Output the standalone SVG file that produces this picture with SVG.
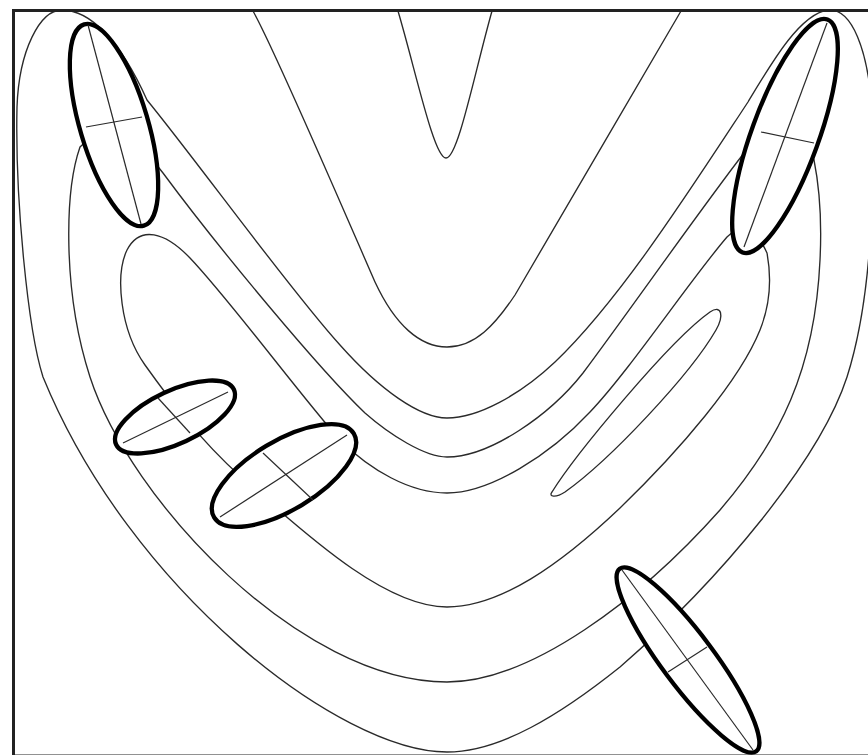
<svg xmlns="http://www.w3.org/2000/svg" width="868" height="755" viewBox="0 0 868 755">
<style>
.c{fill:none;stroke:#2a2a2a;stroke-width:1.35}
.e{fill:#fff;stroke:#000;stroke-width:4.3}
.ax{fill:none;stroke:#2a2a2a;stroke-width:1.2}
.fr{fill:none;stroke:#222;stroke-width:3}
</style>
<rect width="868" height="755" fill="#fff"/>
<g id="contours">
<path class="c" d="M398,11 C416,72 434,158 446,158 C458,158 474,75 492,11"/>
<path class="c" d="M253,11 C275,50 350,225 375,282 C395,325 420,347 447,347 C475,347 495,325 515,295 C545,245 640,80 681,11"/>
<path class="c" d="M447,752 C340,752 130,590 43,377 C28,330 15,200 17,107 C19,50 40,10 62,10 C90,10 120,40 147,100 C200,165 290,290 340,345 C380,390 420,418 447,418 C478,418 520,395 555,362 C620,300 690,190 748,102 C772,62 800,14 828,10 C852,8 868,50 872,110 C876,250 862,330 847,377 C820,460 720,580 620,667 C560,715 500,752 447,752 Z"/>
<path class="c" d="M447,457 C425,457 390,435 365,413 C320,370 220,250 163,173 Q115,110 80,147 C65,190 62,290 90,377 C130,500 300,682 447,682 C530,682 640,600 720,510 C780,440 815,370 820,260 C822,220 820,190 814,160 Q785,80 744,153 C700,210 630,310 583,373 C550,415 490,457 447,457 Z"/>
<path class="c" d="M447,493 C410,493 370,470 340,440 C300,395 230,300 190,258 C165,232 140,225 127,250 C115,275 120,330 145,365 C170,400 200,440 240,476 C320,548 390,607 447,607 C500,607 560,565 620,508 C680,450 740,380 760,330 C770,305 772,280 767,253 Q750,215 727,237 C690,280 630,370 590,412 C550,455 490,493 447,493 Z"/>
<path class="c" d="M552,492 C575,455 670,340 710,312 C722,304 724,316 716,330 C690,375 610,460 565,492 C556,498 548,497 552,492 Z"/>
</g>
<g id="ellipse-top-left">
<ellipse class="e" cx="114" cy="125" rx="105" ry="34" transform="rotate(73.5 114 125)"/>
<line class="ax" x1="88" y1="25" x2="141" y2="224"/>
<line class="ax" x1="86" y1="127" x2="142" y2="117"/>
</g>
<g id="ellipse-top-right">
<ellipse class="e" cx="785" cy="136" rx="124" ry="33.5" transform="rotate(-70 785 136)"/>
<line class="ax" x1="827" y1="23" x2="744" y2="247"/>
<line class="ax" x1="761" y1="132" x2="814" y2="143"/>
</g>
<g id="ellipse-small">
<ellipse class="e" cx="175" cy="417" rx="65" ry="26.5" transform="rotate(-25 175 417)"/>
<line class="ax" x1="123" y1="443" x2="228" y2="392"/>
<line class="ax" x1="158" y1="398" x2="190" y2="433"/>
</g>
<g id="ellipse-middle">
<ellipse class="e" cx="284" cy="475.5" rx="81.5" ry="34.5" transform="rotate(-31 284 475.5)"/>
<line class="ax" x1="220" y1="517" x2="347" y2="435"/>
<line class="ax" x1="263" y1="453" x2="313" y2="500"/>
</g>
<g id="ellipse-bottom-right">
<ellipse class="e" cx="688" cy="660" rx="114" ry="26" transform="rotate(53.2 688 660)"/>
<line class="ax" x1="622" y1="570" x2="753" y2="750"/>
<line class="ax" x1="668" y1="672" x2="707" y2="647"/>
</g>
<g id="frame">
<rect class="fr" x="13.5" y="10.5" width="900" height="745.5"/>
</g>
</svg>
